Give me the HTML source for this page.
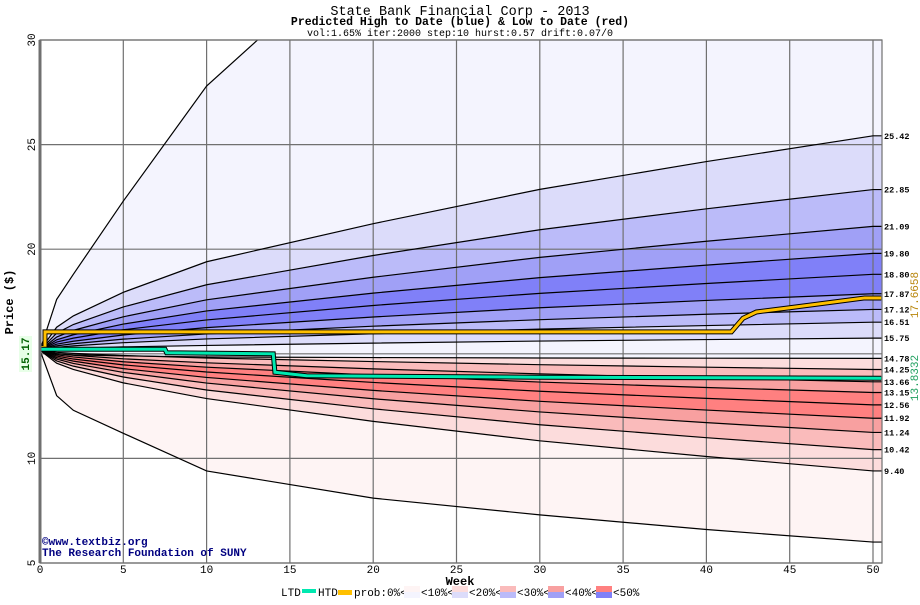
<!DOCTYPE html>
<html><head><meta charset="utf-8"><style>
body{margin:0;background:#fff;width:920px;height:600px;overflow:hidden;font-family:"Liberation Mono","DejaVu Sans Mono",monospace}
</style></head><body>
<svg id="chart" width="920" height="600" xmlns="http://www.w3.org/2000/svg" font-family="Liberation Mono, DejaVu Sans Mono, monospace">
<text x="460" y="15" text-anchor="middle" font-size="13.5">State Bank Financial Corp - 2013</text>
<text x="460" y="25" text-anchor="middle" font-size="11.5" font-weight="bold">Predicted High to Date (blue) &amp;  Low to Date (red)</text>
<text x="460" y="36" text-anchor="middle" font-size="10">vol:1.65% iter:2000 step:10 hurst:0.57 drift:0.07/0</text>
<defs><clipPath id="pc"><rect x="40" y="40" width="842" height="523"/></clipPath></defs>
<g id="bands" clip-path="url(#pc)"></g>
<g id="grid"></g>
<g id="lines" clip-path="url(#pc)"></g>
<g id="axes"></g>
<text x="42" y="545" font-size="11" font-weight="bold" fill="#000080">©www.textbiz.org</text>
<text x="42" y="556" font-size="11" font-weight="bold" fill="#000080">The Research Foundation of SUNY</text>
<text x="460" y="585" text-anchor="middle" font-size="12" font-weight="bold">Week</text>
<text transform="translate(13,302) rotate(-90)" text-anchor="middle" font-size="12" font-weight="bold">Price ($)</text>
<rect x="19" y="336" width="13" height="36" fill="#e8ffe8"/>
<text transform="translate(29,354) rotate(-90)" text-anchor="middle" font-size="11" font-weight="bold" fill="#006000">15.17</text>
<text transform="translate(918,295) rotate(-90)" text-anchor="middle" font-size="11" fill="#b8860b">17.6658</text>
<text transform="translate(918,378) rotate(-90)" text-anchor="middle" font-size="11" fill="#20a060">13.8332</text>
<g id="legend" font-size="11"></g>
</svg>
<script>
const weeks=[0,1,2,5,10,20,30,40,50];
const upperCurves=[
[15.17,17.6,18.8,22.3,27.8,35,40,44,47],
[15.17,16.27,16.81,17.94,19.40,21.22,22.86,24.19,25.42],
[15.17,15.99,16.40,17.24,18.30,19.70,20.93,21.93,22.85],
[15.17,15.80,16.12,16.77,17.58,18.66,19.61,20.38,21.09],
[15.17,15.67,15.91,16.42,17.05,17.90,18.64,19.24,19.80],
[15.17,15.56,15.75,16.15,16.62,17.31,17.89,18.36,18.80],
[15.17,15.46,15.60,15.90,16.25,16.76,17.20,17.55,17.87],
[15.17,15.38,15.48,15.70,15.95,16.32,16.63,16.89,17.12],
[15.17,15.31,15.38,15.53,15.71,15.96,16.18,16.35,16.51],
[15.17,15.23,15.26,15.33,15.40,15.51,15.61,15.68,15.75]];
const centerCurve=[15.17,15.0,14.95,14.9,14.85,14.82,14.80,14.79,14.78];
const lowerCurves=[
[15.17,13.0,12.3,11.2,9.4,8.1,7.3,6.6,6.0],
[15.17,14.55,14.25,13.61,12.86,11.77,10.84,10.09,9.40],
[15.17,14.66,14.41,13.89,13.27,12.37,11.61,10.99,10.42],
[15.17,14.75,14.54,14.11,13.60,12.85,12.22,11.71,11.24],
[15.17,14.82,14.65,14.29,13.87,13.25,12.73,12.31,11.92],
[15.17,14.89,14.75,14.47,14.13,13.63,13.21,12.87,12.56],
[15.17,14.95,14.85,14.62,14.36,13.98,13.65,13.39,13.15],
[15.17,15.01,14.93,14.76,14.57,14.28,14.04,13.84,13.66],
[15.17,15.07,15.02,14.92,14.80,14.63,14.48,14.36,14.25]];
const endLabels=["25.42","22.85","21.09","19.80","18.80","17.87","17.12","16.51","15.75","14.78","14.25","13.66","13.15","12.56","11.92","11.24","10.42","9.40"];
const endValues=[25.42,22.85,21.09,19.80,18.80,17.87,17.12,16.51,15.75,14.78,14.25,13.66,13.15,12.56,11.92,11.24,10.42,9.40];
const htdWeeks=[0,0.3,0.3,41.5,42.2,43,45,49.5,50.5];
const htdValues=[15.3,15.3,16.05,16.05,16.7,17.0,17.2,17.67,17.67];
const ltdWeeks=[0,7.5,7.6,14,14.1,16,30,50.5];
const ltdValues=[15.22,15.22,15.05,15.0,14.12,13.95,13.88,13.83];
const xTicks=[0,5,10,15,20,25,30,35,40,45,50];
const yTicks=[5,10,15,20,25,30];
const upperColors=["#f4f4fe","#dcdcfa","#bbbbf9","#a0a0f6","#8080f8","#8080f8","#a0a0f6","#bbbbf9","#dcdcfa","#f4f4fe"];
const lowerColors=["#fef4f4","#fcdcdc","#fabbbb","#f8a0a0","#ff8080","#ff8080","#f8a0a0","#fabbbb","#fcdcdc"];
const X=w=>40+w*16.66, Y=p=>563-(p-5)*20.92;
const NS="http://www.w3.org/2000/svg";
function mk(t,a,parent){const e=document.createElementNS(NS,t);for(const k in a)e.setAttribute(k,a[k]);parent.appendChild(e);return e;}
const bands=document.getElementById('bands'),lines=document.getElementById('lines'),grid=document.getElementById('grid'),axes=document.getElementById('axes'),legend=document.getElementById('legend');
const XE=50.6;
function pts(vals){const p=weeks.map((w,i)=>[X(w),Y(vals[i])]);p.push([X(XE),Y(vals[vals.length-1])]);return p;}
function band(curve,color,name){
  const a=pts(curve),b=pts(centerCurve).reverse();
  const el=mk('polygon',{points:a.concat(b).map(p=>p.join(',')).join(' '),fill:color},bands);
  
  
}
upperCurves.forEach((c,i)=>band(c,upperColors[i],'upper-band-'+i));
lowerCurves.forEach((c,i)=>band(c,lowerColors[i],'lower-band-'+i));
xTicks.forEach(t=>{
  const g=mk('line',{x1:X(t),x2:X(t),y1:40,y2:563,stroke:'#707070','stroke-width':1.2},grid);
  
  
  const tx=mk('text',{x:X(t),y:573,'text-anchor':'middle','font-size':11},axes);tx.textContent=t;
  
  
});
yTicks.forEach(t=>{
  const g=mk('line',{x1:40,x2:882,y1:Y(t),y2:Y(t),stroke:'#707070','stroke-width':1.2},grid);
  
  
  if(t===15)return;
  const tx=mk('text',{transform:`translate(35,${Y(t)}) rotate(-90)`,'text-anchor':'middle','font-size':11},axes);tx.textContent=t;
  
  
});
upperCurves.concat([centerCurve],lowerCurves).forEach(c=>{
  const l=mk('polyline',{points:pts(c).map(p=>p.join(',')).join(' '),fill:'none',stroke:'#000','stroke-width':1.2},lines);
  
  
});
function step(ws,vs,color,name){
  const p=ws.map((w,i)=>X(w)+','+Y(vs[i])).join(' ');
  const o=mk('polyline',{points:p,fill:'none',stroke:'#000','stroke-width':5},lines);
  
  
  const l=mk('polyline',{points:p,fill:'none',stroke:color,'stroke-width':3},lines);
  
  
}
step(htdWeeks,htdValues,'#ffc000','htd-line');
step(ltdWeeks,ltdValues,'#00e8b0','ltd-line');
const fr=mk('rect',{x:40,y:40,width:842,height:523,fill:'none',stroke:'#707070','stroke-width':1.2},axes);


const la=mk('line',{x1:40,x2:40,y1:40,y2:563,stroke:'#707070','stroke-width':3},axes);


endLabels.forEach((s,i)=>{
  const t=mk('text',{x:884,y:Y(endValues[i])+3,'font-size':8.5,'font-weight':'bold'},axes);t.textContent=s;
  
  
});
function lt(x,s,name){const t=mk('text',{x:x,y:596},legend);t.textContent=s;}
lt(281,'LTD','legend-ltd-label');
let r=mk('rect',{x:302,y:589,width:14,height:4,fill:'#00e8b0'},legend);
lt(318,'HTD','legend-htd-label');
r=mk('rect',{x:338,y:590,width:14,height:5,fill:'#ffc000'},legend);
lt(354,'prob:0%<','legend-prob-label');
const legTop=["#fef4f4","#fcdcdc","#fabbbb","#f8a0a0","#ff8080"],legBot=["#f4f4fe","#dcdcfa","#bbbbf9","#a0a0f6","#8080f8"],legTxt=["<10%<","<20%<","<30%<","<40%<","<50%"];
legTop.forEach((c,i)=>{
  const x=404+i*48;
  let a=mk('rect',{x:x,y:586,width:16,height:6,fill:c},legend);
  a=mk('rect',{x:x,y:592,width:16,height:6,fill:legBot[i]},legend);
  lt(x+17,legTxt[i],'legend-prob-range');
});
</script>
</body></html>
